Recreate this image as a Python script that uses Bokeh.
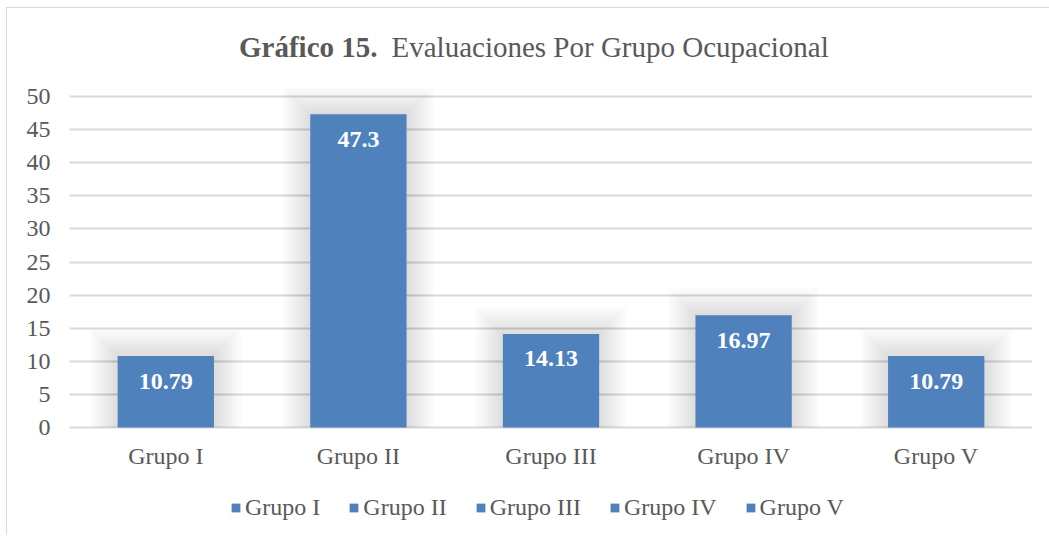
from bokeh.plotting import figure
from bokeh.models import ColumnDataSource, Legend, LegendItem, FactorRange, Range1d
from bokeh.core.properties import value
from bokeh.embed import file_html
from bokeh.resources import INLINE

categories = ["Grupo I", "Grupo II", "Grupo III", "Grupo IV", "Grupo V"]
values = [10.79, 47.3, 14.13, 16.97, 10.79]
labels = ["10.79", "47.3", "14.13", "16.97", "10.79"]
y_ticks = [0, 5, 10, 15, 20, 25, 30, 35, 40, 45, 50]

BAR = "#4F81BD"
GRAY = "#595959"
GRID = "#d9d9d9"
FONT = "Liberation Serif"

src = ColumnDataSource(dict(cat=categories, val=values, lab=labels))

FRAME_W = 963
px_per_unit = 331 / 50.0
px_per_cat = FRAME_W / 5.0
y_top = 50 + 78 / px_per_unit      # room above the 50 line for the title
y_bot = -108 / px_per_unit         # room below 0 for category labels and legend

p = figure(x_range=FactorRange(*categories), y_range=Range1d(y_bot, y_top),
           frame_width=FRAME_W, frame_height=517, output_backend="svg", toolbar_location=None,
           min_border_left=62, min_border_right=17, min_border_top=10, min_border_bottom=0)
p.styles = {"border-left": "1px solid #d9d9d9", "border-top": "1px solid #d9d9d9",
            "margin-left": "6px", "margin-top": "7px"}
p.outline_line_color = None
p.background_fill_color = "white"
p.border_fill_color = "white"

# soft glow around bars
for k in range(1, 12):
    grow = k * 2.5
    p.vbar(x=categories, top=[v + grow / px_per_unit for v in values], bottom=0,
           width=0.5 + 2 * grow / px_per_cat,
           fill_color="black", fill_alpha=0.012, line_color=None)

r = p.vbar(x="cat", top="val", width=0.5, source=src, fill_color=BAR, line_color=None)

# data labels inside the bars
p.text(x="cat", y="val", text="lab", source=src, y_offset=25,
       text_align="center", text_baseline="middle", text_color="white",
       text_font=value(FONT), text_font_style="bold", text_font_size="24px")

# category labels under the zero line
p.text(x=categories, y=[0] * len(categories), text=categories, y_offset=28,
       text_align="center", text_baseline="middle", text_color=GRAY,
       text_font=value(FONT), text_font_size="24px")

# axes
p.xaxis.visible = False
p.yaxis.ticker = y_ticks
p.yaxis.axis_line_color = None
p.yaxis.major_tick_line_color = None
p.yaxis.minor_tick_line_color = None
p.yaxis.major_tick_in = 0
p.yaxis.major_tick_out = 0
p.yaxis.major_label_text_font = FONT
p.yaxis.major_label_text_font_size = "24px"
p.yaxis.major_label_text_color = GRAY
p.yaxis.major_label_standoff = 19

p.xgrid.grid_line_color = None
p.ygrid.ticker = y_ticks
p.ygrid.grid_line_color = GRID
p.ygrid.grid_line_width = 2

# title in two styles
ty = 50 + (96 - 46) / px_per_unit
split = (384 - 69) / px_per_cat
p.text(x=[split], y=[ty], text=["Gráfico 15."], x_offset=-7,
       text_align="right", text_baseline="middle", text_color=GRAY,
       text_font=value(FONT), text_font_style="bold", text_font_size="29px")
p.text(x=[split], y=[ty], text=["Evaluaciones Por Grupo Ocupacional"], x_offset=7,
       text_align="left", text_baseline="middle", text_color=GRAY,
       text_font=value(FONT), text_font_size="29px")

legend = Legend(items=[LegendItem(label=c, renderers=[r], index=i) for i, c in enumerate(categories)],
                orientation="horizontal", location=(161, 14),
                label_text_font=FONT, label_text_font_size="24px", label_text_color=GRAY,
                glyph_width=11, glyph_height=11, label_height=24, label_standoff=4, spacing=28,
                border_line_color=None, background_fill_alpha=0, margin=0, padding=0)
p.add_layout(legend)

open("out.html", "w").write(file_html(p, INLINE))
